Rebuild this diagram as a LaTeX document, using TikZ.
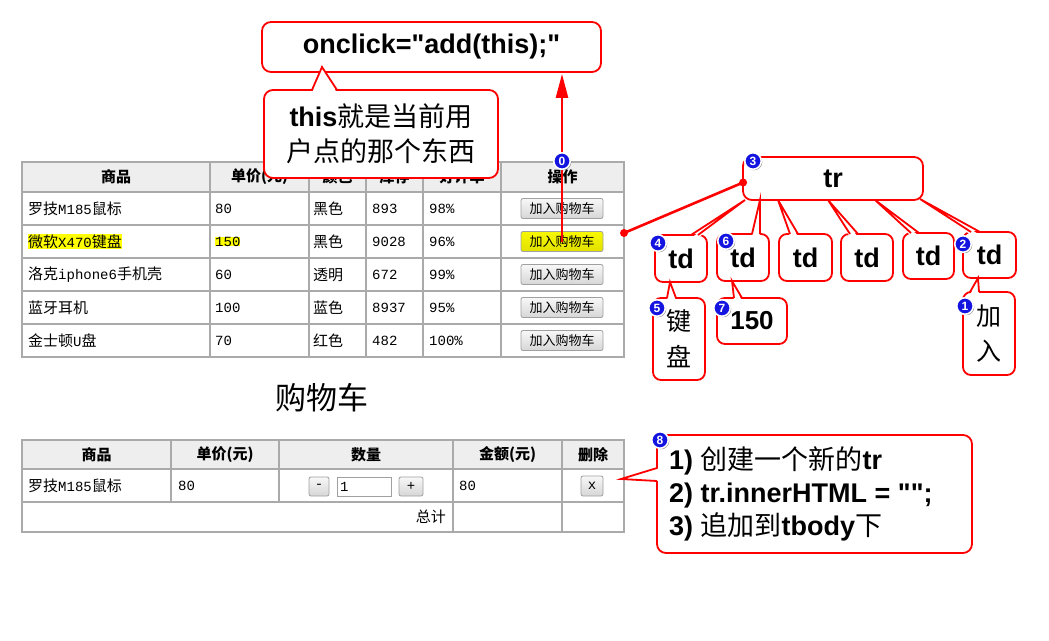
\documentclass[tikz,border=0pt]{standalone}
\usepackage{fontspec}
\setmainfont{Liberation Sans}[Ligatures=TeXOff]
\newfontfamily\cjk{Noto Sans CJK SC}
\newfontfamily\tmono{Liberation Mono}
\usetikzlibrary{calc,shadows,arrows.meta}
\definecolor{cred}{RGB}{255,0,0}
\definecolor{gridc}{RGB}{170,170,170}
\definecolor{hdr}{RGB}{238,238,238}
\definecolor{bblue}{RGB}{20,20,225}
\definecolor{btnb}{RGB}{160,160,160}
\definecolor{hl}{RGB}{255,255,0}
\newcommand\myfs[1]{\fontsize{#1}{#1}\selectfont}
\newcommand\tm[1]{{\tmono\myfs{14}#1}}
\newcommand\ptr[4]{\fill[white] ($#1+#4$) -- #2 -- ($#3+#4$) -- cycle;
  \draw[cred,line width=1.8] #1 -- #2 -- #3;}
\begin{document}
\begin{tikzpicture}[x=1pt,y=-1pt,
  callout/.style={draw=cred,line width=1.8,fill=white,rounded corners=9,inner sep=0},
  tdbox/.style={callout,rounded corners=8},
  badge/.style={circle,fill=bblue,draw=white,line width=1.6,minimum size=16.5,inner sep=0,
    text=white,font=\bfseries\myfs{12},
    drop shadow={shadow xshift=1pt,shadow yshift=-1pt,opacity=0.45,fill=black}},
  gridline/.style={draw=gridc,line width=2,line cap=rect},
  cell/.style={inner sep=0,font=\cjk\myfs{15}},
  celll/.style={cell,anchor=west},
  hcell/.style={inner sep=0,font=\cjk\bfseries\myfs{15}},
  btn/.style={draw=btnb,line width=0.8,rounded corners=2,top color=white!97!black,
    bottom color=white!84!black,inner sep=0,font=\cjk\myfs{13}},
  ybtn/.style={btn,top color={rgb,255:red,248;green,248;blue,0},bottom color={rgb,255:red,225;green,225;blue,0}},
  bigtxt/.style={font=\bfseries\myfs{27}}]
\useasboundingbox (0,0) rectangle (1049,640);
\fill[white] (0,0) rectangle (1049,640);

% ---------- top table ----------
\fill[hdr] (22,162) rectangle (624,192);
\foreach \y in {162,192,225,258,291,324,357} \draw[gridline] (22,\y) -- (624,\y);
\foreach \x in {22,210,309,366,423,501,624} \draw[gridline] (\x,162) -- (\x,357);

\node[hcell] (h1) at (116,177) {商品};
\node[hcell] (h2) at (259.5,177) {单价(元)};
\node[hcell] (h3) at (337.5,177) {颜色};
\node[hcell] (h4) at (394.5,177) {库存};
\node[hcell] (h5) at (462,177) {好评率};
\node[hcell] (h6) at (562.5,177) {操作};

\node[celll] (a1) at (28,208.5) {罗技\tm{M185}鼠标};
\node[celll] (a2) at (215,208.5) {\tm{80}};
\node[celll] (a3) at (313,208.5) {黑色};
\node[celll] (a4) at (372,208.5) {\tm{893}};
\node[celll] (a5) at (429,208.5) {\tm{98\%}};
\node[btn,minimum width=82,minimum height=20] (b1) at (562,208.5) {加入购物车};

\node[celll,fill=hl] (c1) at (28,241.5) {微软\tm{X470}键盘};
\node[celll,fill=hl] (c2) at (215,241.5) {\tm{150}};
\node[celll] (c3) at (313,241.5) {黑色};
\node[celll] (c4) at (372,241.5) {\tm{9028}};
\node[celll] (c5) at (429,241.5) {\tm{96\%}};
\node[ybtn,minimum width=82,minimum height=20] (b2) at (562,241.5) {加入购物车};

\node[celll] (d1) at (28,274.5) {洛克\tm{iphone6}手机壳};
\node[celll] (d2) at (215,274.5) {\tm{60}};
\node[celll] (d3) at (313,274.5) {透明};
\node[celll] (d4) at (372,274.5) {\tm{672}};
\node[celll] (d5) at (429,274.5) {\tm{99\%}};
\node[btn,minimum width=82,minimum height=20] (b3) at (562,274.5) {加入购物车};

\node[celll] (e1) at (28,307.5) {蓝牙耳机};
\node[celll] (e2) at (215,307.5) {\tm{100}};
\node[celll] (e3) at (313,307.5) {蓝色};
\node[celll] (e4) at (372,307.5) {\tm{8937}};
\node[celll] (e5) at (429,307.5) {\tm{95\%}};
\node[btn,minimum width=82,minimum height=20] (b4) at (562,307.5) {加入购物车};

\node[celll] (f1) at (28,340.5) {金士顿\tm{U}盘};
\node[celll] (f2) at (215,340.5) {\tm{70}};
\node[celll] (f3) at (313,340.5) {红色};
\node[celll] (f4) at (372,340.5) {\tm{482}};
\node[celll] (f5) at (429,340.5) {\tm{100\%}};
\node[btn,minimum width=82,minimum height=20] (b5) at (562,340.5) {加入购物车};

% ---------- title ----------
\node[inner sep=0,font=\cjk\myfs{31}] (title) at (322,398) {购物车};

% ---------- bottom table ----------
\fill[hdr] (22,440) rectangle (624,469);
\foreach \y in {440,469,502,532} \draw[gridline] (22,\y) -- (624,\y);
\foreach \x in {22,453,562,624} \draw[gridline] (\x,440) -- (\x,532);
\foreach \x in {171,279} \draw[gridline] (\x,440) -- (\x,502);

\node[hcell] (g1) at (96.5,454.5) {商品};
\node[hcell] (g2) at (225,454.5) {单价(元)};
\node[hcell] (g3) at (366,454.5) {数量};
\node[hcell] (g4) at (507.5,454.5) {金额(元)};
\node[hcell] (g5) at (593,454.5) {删除};

\node[celll] (r1) at (28,486) {罗技\tm{M185}鼠标};
\node[celll] (r2) at (178,486) {\tm{80}};
\node[btn,minimum width=20,minimum height=19] (minus) at (319,486.5) {\tm{-}};
\node[draw=btnb,line width=0.8,fill=white,minimum width=54,minimum height=19,inner sep=0] (qty) at (364,486.5) {};
\node[celll] (qtyv) at (340,486.5) {\tm{1}};
\node[btn,minimum width=24,minimum height=19] (plus) at (411,486.5) {\tm{+}};
\node[celll] (r4) at (459,486) {\tm{80}};
\node[btn,minimum width=22,minimum height=20] (del) at (592,486) {\tm{x}};
\node[cell,anchor=east] (tot) at (446,517) {总计};

% ---------- callouts top ----------
\node[callout,minimum width=339,minimum height=50,bigtxt] (onclick) at (431.5,47) {onclick="add(this);"};

\node[callout,minimum width=234,minimum height=88,align=center,font=\fontsize{27}{35}\selectfont] (thisbox) at (381,134)
  {{\bfseries this}{\cjk 就是当前用}\\{\cjk 户点的那个东西}};
\ptr{(312,90)}{(322,67)}{(337,90)}{(0,3)}

\draw[cred,line width=2.5,shorten >=1,-{Triangle[length=24,width=12]}] (b2.center) -- (onclick.south -| b2.center);

% ---------- tr / td tree ----------
\node[callout,minimum width=180,minimum height=43,bigtxt] (trbox) at (833,178.5) {tr};
\coordinate (rowend) at (624,233);
\coordinate (trin) at ($(trbox.west)+(1,4)$);
\draw[cred,line width=2.6] (rowend) -- (trin);
\fill[cred] (rowend) circle (4);
\fill[cred] (trin) circle (4);

\node[tdbox,minimum width=52,minimum height=47,bigtxt] (tdA) at (681,258.5) {td};
\ptr{(691,235)}{(745,200)}{(698,235)}{(0,3)}
\node[tdbox,minimum width=52,minimum height=47,bigtxt] (tdB) at (743,257.5) {td};
\ptr{(752,234)}{(760,200)}{(760,234)}{(0,3)}
\node[tdbox,minimum width=53,minimum height=47,bigtxt] (tdC) at (805.5,257.5) {td};
\ptr{(790,234)}{(778,200)}{(798,234)}{(0,3)}
\node[tdbox,minimum width=52,minimum height=47,bigtxt] (tdD) at (867,257.5) {td};
\ptr{(850,234)}{(828,200)}{(858,234)}{(0,3)}
\node[tdbox,minimum width=51,minimum height=46,bigtxt] (tdE) at (928.5,256) {td};
\ptr{(911,233)}{(875,200)}{(919,233)}{(0,3)}
\node[tdbox,minimum width=53,minimum height=46,bigtxt] (tdF) at (989.5,255) {td};
\ptr{(971,232)}{(920,199)}{(980,232)}{(0,3)}

\node[tdbox,minimum width=52,minimum height=82,align=center,font=\cjk\fontsize{25}{36}\selectfont] (l5) at (679,339) {键\\盘};
\ptr{(667,298)}{(670,282)}{(676,298)}{(0,3)}
\node[tdbox,minimum width=70,minimum height=46,font=\bfseries\myfs{26}] (l7) at (752,321) {150};
\ptr{(734,298)}{(732,281)}{(742,298)}{(0,3)}
\node[tdbox,minimum width=52,minimum height=83,align=center,font=\cjk\fontsize{25}{35}\selectfont] (l1) at (989,333.5) {加\\入};
\ptr{(970,292)}{(978,278)}{(979,292)}{(0,3)}

% ---------- bottom callout ----------
\node[callout,minimum width=315,minimum height=118] (cb) at (814.5,494) {};
\ptr{(657,468)}{(621,479)}{(657,481)}{(3,0)}
\node[inner sep=0,anchor=west,align=left,font=\bfseries\fontsize{27}{33}\selectfont] (cbtext) at (669,494)
  {1) {\cjk\mdseries 创建一个新的}tr\\2) tr.innerHTML = "";\\3) {\cjk\mdseries 追加到}tbody{\cjk\mdseries 下}};

% ---------- badges ----------
\node[badge] (k0) at (562,161) {0};
\node[badge] (k1) at (965,306) {1};
\node[badge] (k2) at (963,244) {2};
\node[badge] (k3) at (753,161) {3};
\node[badge] (k4) at (658,243) {4};
\node[badge] (k5) at (657,308) {5};
\node[badge] (k6) at (726,241) {6};
\node[badge] (k7) at (722,308) {7};
\node[badge] (k8) at (660,440) {8};
\end{tikzpicture}
\end{document}
